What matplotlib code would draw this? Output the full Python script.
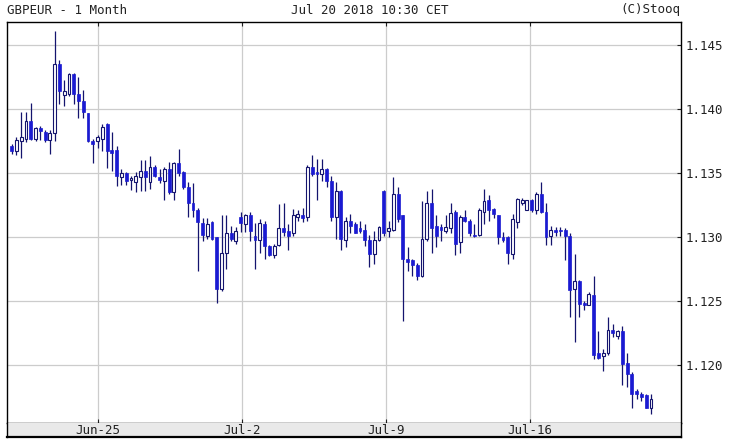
import matplotlib
matplotlib.use("Agg")
import matplotlib.pyplot as plt
import numpy as np

# ---- data (4-hour candles, GBPEUR) ----
opens = [1.1371, 1.1367, 1.1375, 1.1377, 1.1391, 1.1377, 1.1385, 1.1382, 1.1376, 1.1381,
         1.1435, 1.1411, 1.1412, 1.1427, 1.1412, 1.1406, 1.1397, 1.1375, 1.1375, 1.1377,
         1.1388, 1.1368, 1.1368, 1.1347, 1.1350, 1.1345, 1.1343, 1.1347, 1.1352, 1.1343,
         1.1355, 1.1347, 1.1344, 1.1353, 1.1335, 1.1358, 1.1351, 1.1339, 1.1327, 1.1321,
         1.1311, 1.1301, 1.1312, 1.1300, 1.1260, 1.1288, 1.1303, 1.1297, 1.1316, 1.1310,
         1.1317, 1.1301, 1.1298, 1.1310, 1.1293, 1.1286, 1.1294, 1.1307, 1.1305, 1.1303,
         1.1316, 1.1317, 1.1316, 1.1355, 1.1351, 1.1349, 1.1353, 1.1344, 1.1316, 1.1336,
         1.1298, 1.1313, 1.1310, 1.1307, 1.1306, 1.1298, 1.1287, 1.1298, 1.1336, 1.1305,
         1.1306, 1.1334, 1.1317, 1.1283, 1.1282, 1.1278, 1.1270, 1.1299, 1.1327, 1.1309,
         1.1308, 1.1305, 1.1307, 1.1320, 1.1296, 1.1316, 1.1313, 1.1302, 1.1302, 1.1320,
         1.1329, 1.1322, 1.1317, 1.1300, 1.1300, 1.1287, 1.1312, 1.1327, 1.1321, 1.1329,
         1.1321, 1.1334, 1.1320, 1.1301, 1.1306, 1.1306, 1.1306, 1.1301, 1.1260, 1.1266,
         1.1249, 1.1247, 1.1255, 1.1210, 1.1207, 1.1210, 1.1228, 1.1223, 1.1227, 1.1202,
         1.1193, 1.1180, 1.1178, 1.1177, 1.1167]
highs = [1.1373, 1.1378, 1.1398, 1.1398, 1.1405, 1.1386, 1.1387, 1.1384, 1.1384, 1.1461,
         1.1438, 1.1423, 1.1428, 1.1428, 1.1425, 1.1415, 1.1397, 1.1377, 1.1380, 1.1388,
         1.1389, 1.1382, 1.1371, 1.1353, 1.1351, 1.1348, 1.1351, 1.1360, 1.1360, 1.1363,
         1.1356, 1.1353, 1.1355, 1.1359, 1.1359, 1.1369, 1.1352, 1.1343, 1.1342, 1.1323,
         1.1315, 1.1315, 1.1313, 1.1300, 1.1317, 1.1317, 1.1309, 1.1308, 1.1320, 1.1318,
         1.1320, 1.1311, 1.1314, 1.1313, 1.1294, 1.1295, 1.1326, 1.1327, 1.1310, 1.1322,
         1.1321, 1.1323, 1.1356, 1.1364, 1.1361, 1.1361, 1.1354, 1.1348, 1.1343, 1.1337,
         1.1316, 1.1318, 1.1312, 1.1313, 1.1310, 1.1302, 1.1305, 1.1309, 1.1337, 1.1313,
         1.1347, 1.1339, 1.1317, 1.1292, 1.1283, 1.1280, 1.1328, 1.1336, 1.1338, 1.1317,
         1.1310, 1.1317, 1.1327, 1.1321, 1.1317, 1.1321, 1.1314, 1.1310, 1.1323, 1.1338,
         1.1333, 1.1323, 1.1317, 1.1304, 1.1301, 1.1318, 1.1331, 1.1331, 1.1329, 1.1330,
         1.1335, 1.1343, 1.1327, 1.1309, 1.1308, 1.1308, 1.1307, 1.1303, 1.1287, 1.1267,
         1.1250, 1.1257, 1.1270, 1.1227, 1.1213, 1.1238, 1.1232, 1.1228, 1.1231, 1.1210,
         1.1195, 1.1182, 1.1179, 1.1178, 1.1178]
lows = [1.1365, 1.1364, 1.1362, 1.1374, 1.1376, 1.1375, 1.1376, 1.1374, 1.1365, 1.1375,
        1.1404, 1.1402, 1.1410, 1.1404, 1.1393, 1.1393, 1.1374, 1.1358, 1.1370, 1.1367,
        1.1354, 1.1352, 1.1340, 1.1341, 1.1341, 1.1337, 1.1335, 1.1336, 1.1336, 1.1338,
        1.1347, 1.1342, 1.1329, 1.1334, 1.1329, 1.1348, 1.1338, 1.1316, 1.1316, 1.1274,
        1.1297, 1.1299, 1.1298, 1.1249, 1.1258, 1.1275, 1.1297, 1.1295, 1.1304, 1.1304,
        1.1297, 1.1275, 1.1288, 1.1283, 1.1285, 1.1284, 1.1293, 1.1301, 1.1290, 1.1301,
        1.1313, 1.1312, 1.1313, 1.1348, 1.1329, 1.1344, 1.1339, 1.1313, 1.1299, 1.1290,
        1.1292, 1.1303, 1.1303, 1.1303, 1.1293, 1.1277, 1.1279, 1.1297, 1.1301, 1.1300,
        1.1305, 1.1312, 1.1235, 1.1274, 1.1270, 1.1267, 1.1269, 1.1297, 1.1288, 1.1292,
        1.1297, 1.1303, 1.1303, 1.1286, 1.1288, 1.1312, 1.1301, 1.1300, 1.1301, 1.1310,
        1.1313, 1.1315, 1.1295, 1.1296, 1.1279, 1.1283, 1.1307, 1.1325, 1.1321, 1.1320,
        1.1318, 1.1319, 1.1294, 1.1294, 1.1301, 1.1301, 1.1282, 1.1238, 1.1218, 1.1238,
        1.1243, 1.1247, 1.1205, 1.1205, 1.1196, 1.1208, 1.1222, 1.1221, 1.1185, 1.1183,
        1.1167, 1.1174, 1.1172, 1.1167, 1.1162]
closes = [1.1367, 1.1376, 1.1378, 1.1391, 1.1377, 1.1385, 1.1383, 1.1376, 1.1381, 1.1435,
          1.1414, 1.1414, 1.1427, 1.1412, 1.1406, 1.1398, 1.1375, 1.1373, 1.1378, 1.1386,
          1.1367, 1.1366, 1.1348, 1.1350, 1.1344, 1.1346, 1.1348, 1.1352, 1.1347, 1.1355,
          1.1348, 1.1345, 1.1353, 1.1335, 1.1358, 1.1350, 1.1339, 1.1327, 1.1321, 1.1312,
          1.1302, 1.1310, 1.1299, 1.1260, 1.1288, 1.1303, 1.1299, 1.1305, 1.1311, 1.1317,
          1.1305, 1.1298, 1.1311, 1.1293, 1.1286, 1.1293, 1.1307, 1.1304, 1.1301, 1.1317,
          1.1318, 1.1315, 1.1355, 1.1349, 1.1349, 1.1353, 1.1344, 1.1316, 1.1336, 1.1299,
          1.1313, 1.1309, 1.1303, 1.1305, 1.1298, 1.1287, 1.1298, 1.1308, 1.1303, 1.1307,
          1.1334, 1.1314, 1.1283, 1.1281, 1.1278, 1.1270, 1.1299, 1.1327, 1.1307, 1.1301,
          1.1306, 1.1308, 1.1319, 1.1295, 1.1316, 1.1313, 1.1303, 1.1301, 1.1321, 1.1328,
          1.1321, 1.1318, 1.1300, 1.1298, 1.1288, 1.1314, 1.1330, 1.1329, 1.1329, 1.1321,
          1.1334, 1.1320, 1.1300, 1.1306, 1.1304, 1.1305, 1.1301, 1.1259, 1.1266, 1.1248,
          1.1247, 1.1256, 1.1208, 1.1206, 1.1210, 1.1228, 1.1225, 1.1227, 1.1201, 1.1193,
          1.1178, 1.1178, 1.1175, 1.1167, 1.1174]

xtick_labels = ["Jun-25", "Jul-2", "Jul-9", "Jul-16"]
ytick_values = [1.120, 1.125, 1.130, 1.135, 1.140, 1.145]
title_left = "GBPEUR - 1 Month"
title_mid = "Jul 20 2018 10:30 CET"
title_right = "(C)Stooq"

# ---- layout ----
W, H = 730, 441
xtick_pos = [18.1, 48.3, 78.5, 108.7]   # candle-index positions of week starts
FONT = "DejaVu Sans Mono"
FS = 9
TXT = "#222222"

fig = plt.figure(figsize=(W / 100, H / 100), dpi=100)
fig.patch.set_facecolor("white")


def px_axes(x0, y0, x1, y1):
    return fig.add_axes([x0 / W, 1 - y1 / H, (x1 - x0) / W, (y1 - y0) / H])


ax = px_axes(7, 22, 681, 423)
band = px_axes(7, 423, 681, 437)

xlim = (-0.985, 140.3)
ax.set_xlim(*xlim)
ax.set_ylim(1.11551, 1.14679)

grid_c = "#cccccc"
for yv in ytick_values:
    ax.axhline(yv, color=grid_c, lw=0.9, zorder=0)
for xv in xtick_pos:
    ax.axvline(xv, color=grid_c, lw=0.9, zorder=0)

# ---- candles ----
o = np.array(opens)
c = np.array(closes)
hi = np.array(highs)
lo = np.array(lows)
x = np.arange(len(o))
down = c < o
body_bot = np.minimum(o, c)
body_h = np.maximum(np.abs(c - o), 0.00007)

wick_c = "#14146e"
fill_c = "#1a1ad2"
ax.vlines(x, lo, hi, color=wick_c, lw=0.9, zorder=2)
ax.bar(x[down], body_h[down], bottom=body_bot[down], width=0.6,
       color=fill_c, edgecolor=fill_c, lw=0.5, zorder=3)
ax.bar(x[~down], body_h[~down], bottom=body_bot[~down], width=0.6,
       color="white", edgecolor=wick_c, lw=0.8, zorder=3)

# ---- axes styling ----
for s in ax.spines.values():
    s.set_color("black")
    s.set_linewidth(1.0)
ax.yaxis.tick_right()
ax.set_yticks(ytick_values)
ax.set_yticklabels([f"{v:.3f}" for v in ytick_values], family=FONT, fontsize=FS, color=TXT)
ax.tick_params(axis="y", which="both", direction="in", length=3, width=0.8,
               pad=3, right=True, left=False, colors=TXT)
ax.set_xticks(xtick_pos)
ax.set_xticklabels([])
ax.tick_params(axis="x", which="both", direction="in", length=3, width=0.8,
               top=True, bottom=True, colors=TXT)

band.set_xlim(*xlim)
band.set_ylim(0, 1)
band.set_facecolor("#e9e9e9")
band.set_xticks([])
band.set_yticks([])
for s in band.spines.values():
    s.set_color("black")
    s.set_linewidth(1.0)
band.spines["bottom"].set_linewidth(1.6)
band.spines["top"].set_visible(False)
for pos, lab in zip(xtick_pos, xtick_labels):
    band.text(pos, 0.45, lab, ha="center", va="center", family=FONT,
              fontsize=FS, color=TXT)

# ---- header texts ----
ty = 1 - 10 / H
fig.text(7 / W, ty, title_left, ha="left", va="center", family=FONT, fontsize=FS, color=TXT)
fig.text(370 / W, ty, title_mid, ha="center", va="center", family=FONT, fontsize=FS, color=TXT)
fig.text(680 / W, ty, title_right, ha="right", va="center", family=FONT, fontsize=FS, color=TXT)

fig.savefig("out.png", dpi=100, facecolor="white")
